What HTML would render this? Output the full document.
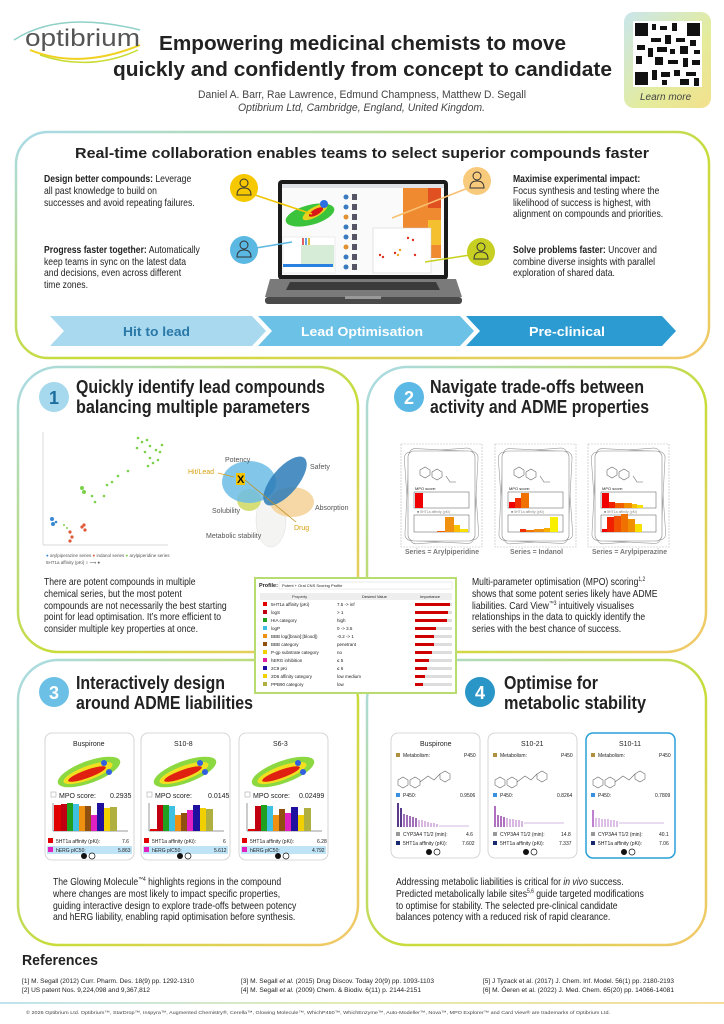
<!DOCTYPE html>
<html><head><meta charset="utf-8"><style>
html,body{margin:0;padding:0;background:#fff}
svg{display:block}
text{font-family:"Liberation Sans",sans-serif;fill:#222}
.b{font-weight:bold}
.p{font-size:10.5px;fill:#333}
.s{font-size:6px;fill:#333}
</style></head><body>
<svg width="724" height="1024" viewBox="0 0 724 1024" xmlns="http://www.w3.org/2000/svg">
<defs>
<linearGradient id="pg" x1="0" y1="0" x2="1" y2="1">
<stop offset="0" stop-color="#a9dbea"/><stop offset="0.55" stop-color="#c8dc3a"/><stop offset="1" stop-color="#f3c86c"/></linearGradient>
<linearGradient id="qr" x1="0" y1="0" x2="1" y2="1">
<stop offset="0" stop-color="#c9e6ec"/><stop offset="0.6" stop-color="#e4ec9c"/><stop offset="1" stop-color="#f2e08c"/></linearGradient>
<linearGradient id="fl" x1="0" y1="0" x2="1" y2="0">
<stop offset="0" stop-color="#bfe3ef"/><stop offset="0.5" stop-color="#e3ecb0"/><stop offset="1" stop-color="#f5dc9c"/></linearGradient>
<radialGradient id="glow" cx="0.5" cy="0.5" r="0.5"><stop offset="0" stop-color="#d81010"/><stop offset="0.45" stop-color="#e83010"/><stop offset="0.7" stop-color="#f0e020"/><stop offset="1" stop-color="#40c040"/></radialGradient>
</defs>

<!-- Logo -->
<path d="M14 40 Q60 10 140 30" stroke="#8fd0c8" stroke-width="1.5" fill="none"/>
<path d="M30 50 Q80 70 140 45" stroke="#f0d020" stroke-width="2" fill="none"/>
<path d="M40 55 Q90 72 138 50" stroke="#c8dc30" stroke-width="1.5" fill="none"/>
<text x="25" y="46" style="font-size:24px;fill:#555" textLength="115" lengthAdjust="spacingAndGlyphs">optibrium</text>

<!-- Title -->
<text class="b" x="159" y="50" style="font-size:20px;fill:#222" textLength="407" lengthAdjust="spacingAndGlyphs">Empowering medicinal chemists to move</text>
<text class="b" x="113" y="76" style="font-size:20px;fill:#222" textLength="499" lengthAdjust="spacingAndGlyphs">quickly and confidently from concept to candidate</text>
<text x="198" y="98" style="font-size:11px;fill:#444" textLength="328" lengthAdjust="spacingAndGlyphs">Daniel A. Barr, Rae Lawrence, Edmund Champness, Matthew D. Segall</text>
<text x="238" y="111" style="font-size:11px;fill:#444;font-style:italic" textLength="247" lengthAdjust="spacingAndGlyphs">Optibrium Ltd, Cambridge, England, United Kingdom.</text>

<!-- QR -->
<rect x="624" y="12" width="87" height="96" rx="10" fill="url(#qr)"/>
<rect x="633" y="21" width="69" height="66" fill="#fff"/>
<g fill="#111">
<rect x="635" y="23" width="13" height="13"/><rect x="687" y="23" width="13" height="13"/><rect x="635" y="72" width="13" height="13"/>
<rect x="652" y="24" width="4" height="6"/><rect x="660" y="26" width="7" height="4"/><rect x="672" y="23" width="5" height="8"/><rect x="651" y="38" width="10" height="4"/><rect x="665" y="35" width="6" height="9"/><rect x="676" y="38" width="9" height="4"/><rect x="690" y="40" width="6" height="6"/><rect x="637" y="45" width="8" height="5"/><rect x="648" y="48" width="5" height="9"/><rect x="657" y="47" width="10" height="5"/><rect x="670" y="49" width="5" height="5"/><rect x="680" y="46" width="8" height="8"/><rect x="694" y="50" width="6" height="4"/><rect x="636" y="56" width="6" height="8"/><rect x="655" y="57" width="8" height="8"/><rect x="668" y="60" width="10" height="4"/><rect x="683" y="58" width="5" height="9"/><rect x="692" y="60" width="8" height="5"/><rect x="652" y="70" width="5" height="10"/><rect x="661" y="72" width="9" height="5"/><rect x="674" y="70" width="6" height="6"/><rect x="686" y="72" width="10" height="4"/><rect x="662" y="80" width="5" height="5"/><rect x="680" y="79" width="9" height="6"/><rect x="694" y="78" width="5" height="8"/>
</g>
<text x="640" y="100" style="font-size:10px;fill:#444;font-style:italic">Learn more</text>

<!-- Top panel -->
<rect x="16" y="132" width="693" height="226" rx="32" fill="#fff" stroke="url(#pg)" stroke-width="2.5"/>
<text class="b" x="75" y="158" style="font-size:15px;fill:#222" textLength="574" lengthAdjust="spacingAndGlyphs">Real-time collaboration enables teams to select superior compounds faster</text>

<g class="p">
<text transform="translate(44,182) scale(.82 1)"><tspan class="b">Design better compounds:</tspan> Leverage</text>
<text transform="translate(44,194) scale(.82 1)">all past knowledge to build on</text>
<text transform="translate(44,206) scale(.82 1)">successes and avoid repeating failures.</text>
<text transform="translate(44,253) scale(.82 1)"><tspan class="b">Progress faster together:</tspan> Automatically</text>
<text transform="translate(44,265) scale(.82 1)">keep teams in sync on the latest data</text>
<text transform="translate(44,276) scale(.82 1)">and decisions, even across different</text>
<text transform="translate(44,288) scale(.82 1)">time zones.</text>
<text transform="translate(513,182) scale(.82 1)" class="b">Maximise experimental impact:</text>
<text transform="translate(513,194) scale(.82 1)">Focus synthesis and testing where the</text>
<text transform="translate(513,206) scale(.82 1)">likelihood of success is highest, with</text>
<text transform="translate(513,217) scale(.82 1)">alignment on compounds and priorities.</text>
<text transform="translate(513,253) scale(.82 1)"><tspan class="b">Solve problems faster:</tspan> Uncover and</text>
<text transform="translate(513,265) scale(.82 1)">combine diverse insights with parallel</text>
<text transform="translate(513,276) scale(.82 1)">exploration of shared data.</text>
</g>

<!-- Laptop -->
<rect x="278" y="180" width="170" height="100" rx="4" fill="#1b1b1b"/>
<rect x="282" y="184" width="162" height="91" fill="#fafafa"/>
<rect x="282" y="184" width="162" height="4" fill="#dfe3e8"/>
<ellipse cx="310" cy="215" rx="25" ry="10" fill="#3bc43b" transform="rotate(-15 310 215)"/>
<ellipse cx="315" cy="212" rx="14" ry="5" fill="#e8d020" transform="rotate(-30 315 212)"/>
<ellipse cx="316" cy="212" rx="8" ry="3" fill="#d81818" transform="rotate(-30 316 212)"/>
<circle cx="324" cy="204" r="4" fill="#2a70e0"/>
<rect x="283" y="237" width="52" height="36" fill="#fff" stroke="#ddd" stroke-width=".5"/>
<rect x="301" y="245" width="33" height="22" fill="#d6ecd6"/>
<rect x="283" y="264" width="50" height="3" fill="#2a80e0"/>
<g fill="#e06060"><rect x="302" y="238" width="2" height="7"/><rect x="305" y="238" width="2" height="7" fill="#60a0e0"/><rect x="308" y="238" width="2" height="7" fill="#e0c040"/></g>
<g>
<circle cx="346" cy="197" r="2.5" fill="#3a7ac0"/><circle cx="346" cy="207" r="2.5" fill="#3a7ac0"/><circle cx="346" cy="217" r="2.5" fill="#e09030"/><circle cx="346" cy="227" r="2.5" fill="#3a7ac0"/><circle cx="346" cy="237" r="2.5" fill="#3a7ac0"/><circle cx="346" cy="247" r="2.5" fill="#e09030"/><circle cx="346" cy="257" r="2.5" fill="#3a7ac0"/><circle cx="346" cy="267" r="2.5" fill="#3a7ac0"/>
<g fill="#556"><rect x="352" y="194" width="5" height="6"/><rect x="352" y="204" width="5" height="6"/><rect x="352" y="214" width="5" height="6"/><rect x="352" y="224" width="5" height="6"/><rect x="352" y="234" width="5" height="6"/><rect x="352" y="244" width="5" height="6"/><rect x="352" y="254" width="5" height="6"/><rect x="352" y="264" width="5" height="6"/></g>
</g>
<rect x="403" y="188" width="38" height="70" fill="#f08a30"/>
<rect x="428" y="188" width="13" height="20" fill="#e05020"/><rect x="428" y="220" width="13" height="25" fill="#f5c030"/><rect x="415" y="245" width="13" height="13" fill="#f5b030"/>
<rect x="373" y="228" width="58" height="45" fill="#fff" stroke="#ccc" stroke-width=".5"/>
<g fill="#e03020"><circle cx="380" cy="255" r="1.2"/><circle cx="383" cy="257" r="1.2"/><circle cx="395" cy="253" r="1.2"/><circle cx="408" cy="238" r="1.2"/><circle cx="413" cy="240" r="1.2"/><circle cx="415" cy="255" r="1.2"/><circle cx="398" cy="255" r="1.2" fill="#f0a020"/><circle cx="400" cy="250" r="1.2" fill="#f0a020"/></g>
<polygon points="270,279 456,279 462,297 265,297" fill="#7a7a7a"/>
<polygon points="290,282 436,282 440,290 286,290" fill="#3a3a3a"/>
<rect x="265" y="297" width="197" height="7" rx="3" fill="#4a4a4a"/>
<rect x="345" y="296" width="36" height="3" fill="#999"/>

<!-- connectors + persons -->
<line x1="255" y1="195" x2="312" y2="214" stroke="#f0c400" stroke-width="1.5"/>
<line x1="256" y1="248" x2="292" y2="242" stroke="#5bb8e0" stroke-width="1.5"/>
<line x1="468" y1="188" x2="392" y2="218" stroke="#f8c070" stroke-width="1.5"/>
<line x1="470" y1="255" x2="425" y2="262" stroke="#c8d020" stroke-width="1.5"/>
<g stroke="#333" stroke-width="1" fill="none">
<circle cx="244" cy="188" r="14" fill="#f6c800" stroke="none"/><circle cx="244" cy="183" r="4"/><path d="M237 195 q0-7 7-7 q7 0 7 7 z"/>
<circle cx="244" cy="250" r="14" fill="#5bb8e2" stroke="none"/><circle cx="244" cy="245" r="4"/><path d="M237 257 q0-7 7-7 q7 0 7 7 z"/>
<circle cx="477" cy="181" r="14" fill="#f8cb7c" stroke="none"/><circle cx="477" cy="176" r="4"/><path d="M470 188 q0-7 7-7 q7 0 7 7 z"/>
<circle cx="481" cy="252" r="14" fill="#c6cf22" stroke="none"/><circle cx="481" cy="247" r="4"/><path d="M474 259 q0-7 7-7 q7 0 7 7 z"/>
</g>

<!-- chevrons -->
<polygon points="50,316 252,316 266,331 252,346 50,346 64,331" fill="#a8d9ef"/>
<polygon points="258,316 460,316 474,331 460,346 258,346 272,331" fill="#6cc1e6"/>
<polygon points="466,316 662,316 676,331 662,346 466,346 480,331" fill="#2b9bd1"/>
<text class="b" x="123" y="336" style="font-size:13px;fill:#2a78a8" textLength="67" lengthAdjust="spacingAndGlyphs">Hit to lead</text>
<text class="b" x="301" y="336" style="font-size:13px;fill:#fff" textLength="122" lengthAdjust="spacingAndGlyphs">Lead Optimisation</text>
<text class="b" x="529" y="336" style="font-size:13px;fill:#fff" textLength="76" lengthAdjust="spacingAndGlyphs">Pre-clinical</text>

<!-- Panels 1-4 -->
<rect x="18" y="367" width="340" height="285" rx="40" fill="#fff" stroke="url(#pg)" stroke-width="2.5"/>
<rect x="367" y="367" width="339" height="285" rx="40" fill="#fff" stroke="url(#pg)" stroke-width="2.5"/>
<rect x="18" y="660" width="340" height="285" rx="40" fill="#fff" stroke="url(#pg)" stroke-width="2.5"/>
<rect x="367" y="660" width="339" height="285" rx="40" fill="#fff" stroke="url(#pg)" stroke-width="2.5"/>

<!-- Panel 1 -->
<circle cx="54" cy="397" r="15" fill="#a6d8ee"/>
<text class="b" x="49" y="404" style="font-size:18px;fill:#1c6e9c">1</text>
<text class="b" x="76" y="393" style="font-size:18px" textLength="249" lengthAdjust="spacingAndGlyphs">Quickly identify lead compounds</text>
<text class="b" x="76" y="413" style="font-size:18px" textLength="234" lengthAdjust="spacingAndGlyphs">balancing multiple parameters</text>
<line x1="43" y1="432" x2="43" y2="545" stroke="#ccc" stroke-width=".7"/>
<line x1="43" y1="545" x2="168" y2="545" stroke="#ccc" stroke-width=".7"/>
<g fill="#7cd04a">
<circle cx="138" cy="438" r="1.3"/><circle cx="142" cy="442" r="1.3"/><circle cx="147" cy="440" r="1.3"/><circle cx="150" cy="446" r="1.3"/><circle cx="156" cy="450" r="1.3"/><circle cx="160" cy="452" r="1.3"/><circle cx="145" cy="452" r="1.3"/><circle cx="150" cy="458" r="1.3"/><circle cx="158" cy="460" r="1.3"/><circle cx="153" cy="463" r="1.3"/><circle cx="137" cy="448" r="1.3"/><circle cx="162" cy="445" r="1.3"/><circle cx="148" cy="466" r="1.3"/><circle cx="128" cy="471" r="1.3"/><circle cx="118" cy="476" r="1.3"/><circle cx="112" cy="482" r="1.3"/><circle cx="107" cy="485" r="1.3"/><circle cx="82" cy="488" r="2"/><circle cx="84" cy="492" r="2"/><circle cx="92" cy="496" r="1.3"/><circle cx="95" cy="502" r="1.3"/><circle cx="104" cy="496" r="1.3"/>
</g>
<g fill="#3a88d0"><circle cx="52" cy="519" r="2"/><circle cx="53" cy="524" r="2"/><circle cx="56" cy="522" r="1.3"/></g>
<g fill="#e05a3a"><circle cx="82" cy="527" r="1.6"/><circle cx="85" cy="530" r="1.6"/><circle cx="70" cy="532" r="1.6"/><circle cx="72" cy="537" r="1.6"/><circle cx="70" cy="541" r="1.6"/><circle cx="84" cy="525" r="1.6"/></g>
<g fill="#7cd04a"><circle cx="64" cy="525" r="1"/><circle cx="67" cy="528" r="1"/></g>
<text x="46" y="557" style="font-size:4.5px;fill:#555"><tspan fill="#3a88d0">●</tspan> arylpiperazine series <tspan fill="#e05a3a">●</tspan> indanol series <tspan fill="#7cd04a">●</tspan> arylpiperidine series</text>
<text x="46" y="564" style="font-size:4.5px;fill:#555">5HT1a affinity (pKi) ○ ⟶ ●</text>

<!-- Venn -->
<ellipse cx="271" cy="520" rx="15" ry="27" fill="#f4f4f2" stroke="#ddd" stroke-width=".5"/>
<ellipse cx="249" cy="500" rx="12" ry="11" fill="#cfd860" opacity=".85"/>
<ellipse cx="292" cy="502" rx="22" ry="15" fill="#f5d49c" opacity=".9"/>
<ellipse cx="249" cy="482" rx="27" ry="21" fill="#6cbde6" opacity=".85"/>
<ellipse cx="285" cy="481" rx="30" ry="13" fill="#2d7db8" opacity=".85" transform="rotate(-50 285 481)"/>
<text x="225" y="462" style="font-size:7px;fill:#555">Potency</text>
<text x="310" y="469" style="font-size:7px;fill:#555">Safety</text>
<text x="315" y="510" style="font-size:7px;fill:#555">Absorption</text>
<text x="212" y="513" style="font-size:7px;fill:#555">Solubility</text>
<text x="206" y="538" style="font-size:7px;fill:#555">Metabolic stability</text>
<text x="188" y="474" style="font-size:7px;fill:#d8a010">Hit/Lead</text>
<text x="294" y="530" style="font-size:7px;fill:#d8a010">Drug</text>
<line x1="218" y1="473" x2="234" y2="477" stroke="#d8a010" stroke-width=".8"/>
<line x1="245" y1="480" x2="296" y2="522" stroke="#c09020" stroke-width=".8"/>
<rect x="236" y="473" width="9" height="12" fill="#f4c400"/>
<text class="b" x="237" y="483" style="font-size:11px;fill:#111">X</text>

<g class="p">
<text transform="translate(44,585) scale(.82 1)">There are potent compounds in multiple</text>
<text transform="translate(44,597) scale(.82 1)">chemical series, but the most potent</text>
<text transform="translate(44,609) scale(.82 1)">compounds are not necessarily the best starting</text>
<text transform="translate(44,620) scale(.82 1)">point for lead optimisation. It’s more efficient to</text>
<text transform="translate(44,632) scale(.82 1)">consider multiple key properties at once.</text>
</g>

<!-- Panel 2 -->
<circle cx="409" cy="397" r="15" fill="#5cb8e4"/>
<text class="b" x="404" y="404" style="font-size:18px;fill:#fff">2</text>
<text class="b" x="430" y="393" style="font-size:18px" textLength="214" lengthAdjust="spacingAndGlyphs">Navigate trade-offs between</text>
<text class="b" x="430" y="413" style="font-size:18px" textLength="219" lengthAdjust="spacingAndGlyphs">activity and ADME properties</text>

<g id="c2">
<rect x="401" y="444" width="81" height="103" fill="none" stroke="#bbb" stroke-width=".6" stroke-dasharray="2 1"/>
<rect x="407" y="450" width="69" height="92" rx="6" fill="#fff" stroke="#999" stroke-width=".6" transform="rotate(-4 441 496)"/>
<rect x="407" y="450" width="69" height="92" rx="6" fill="#fff" stroke="#999" stroke-width=".6" transform="rotate(3 441 496)"/>
<rect x="408" y="451" width="67" height="90" rx="6" fill="#fff" stroke="#888" stroke-width=".6"/>
<path d="M420 470 l5 -3 5 3 0 5 -5 3 -5 -3z M432 472 l5 -3 5 3 0 5 -5 3 -5-3z M446 476 l4 6 6 0" stroke="#666" stroke-width=".6" fill="none"/>
<text x="415" y="490" style="font-size:4px">MPO score:</text>
<rect x="414" y="492" width="55" height="16" fill="#fff" stroke="#555" stroke-width=".5"/>
<text x="417" y="513" style="font-size:3.5px;fill:#888">■ 5HT1a affinity (pKi)</text>
<rect x="414" y="515" width="55" height="17" fill="#fff" stroke="#555" stroke-width=".5"/>
</g>
<g fill="#f00000"><rect x="415" y="493" width="8" height="15"/></g>
<g><rect x="445" y="517" width="9" height="15" fill="#f09010"/><rect x="454" y="525" width="6" height="7" fill="#f8c000"/><rect x="460" y="529" width="8" height="3" fill="#f8e000"/><rect x="437" y="531" width="8" height="1" fill="#f06000"/></g>
<use href="#c2" x="94"/>
<g><rect x="509" y="502" width="6" height="6" fill="#f00000"/><rect x="515" y="498" width="6" height="10" fill="#f03000"/><rect x="521" y="493" width="8" height="15" fill="#f07000"/></g>
<g><rect x="520" y="529" width="6" height="3" fill="#f03000"/><rect x="526" y="530" width="8" height="2" fill="#f07000"/><rect x="534" y="529" width="10" height="3" fill="#f09010"/><rect x="544" y="528" width="6" height="4" fill="#f8b000"/><rect x="550" y="517" width="8" height="15" fill="#f8f000"/></g>
<use href="#c2" x="187"/>
<g><rect x="602" y="493" width="7" height="15" fill="#f00000"/><rect x="609" y="502" width="6" height="6" fill="#f02000"/><rect x="615" y="503" width="9" height="5" fill="#f06000"/><rect x="624" y="503" width="8" height="5" fill="#f09000"/><rect x="632" y="504" width="5" height="4" fill="#f8c000"/><rect x="637" y="505" width="6" height="3" fill="#f8e000"/></g>
<g><rect x="602" y="529" width="5" height="3" fill="#f00000"/><rect x="607" y="517" width="7" height="15" fill="#f02000"/><rect x="614" y="516" width="7" height="16" fill="#f05000"/><rect x="621" y="514" width="7" height="18" fill="#f07000"/><rect x="628" y="519" width="7" height="13" fill="#f09000"/><rect x="635" y="524" width="7" height="8" fill="#f8e000"/></g>
<text class="b" x="405" y="554" style="font-size:7px;fill:#777" textLength="74" lengthAdjust="spacingAndGlyphs">Series = Arylpiperidine</text>
<text class="b" x="510" y="554" style="font-size:7px;fill:#777" textLength="53" lengthAdjust="spacingAndGlyphs">Series = Indanol</text>
<text class="b" x="592" y="554" style="font-size:7px;fill:#777" textLength="75" lengthAdjust="spacingAndGlyphs">Series = Arylpiperazine</text>

<g class="p">
<text transform="translate(472,585) scale(.82 1)">Multi-parameter optimisation (MPO) scoring<tspan dy="-4" style="font-size:6px">1,2</tspan></text>
<text transform="translate(472,597) scale(.82 1)">shows that some potent series likely have ADME</text>
<text transform="translate(472,609) scale(.82 1)">liabilities. Card View<tspan dy="-4" style="font-size:6px">™3</tspan><tspan dy="4"> intuitively visualises</tspan></text>
<text transform="translate(472,620) scale(.82 1)">relationships in the data to quickly identify the</text>
<text transform="translate(472,632) scale(.82 1)">series with the best chance of success.</text>
</g>

<!-- Profile table -->
<rect x="255" y="578" width="201" height="115" fill="#fff" stroke="#b8dc70" stroke-width="2"/>
<text class="b" x="259" y="587" style="font-size:5.5px">Profile:</text>
<rect x="279" y="582" width="173" height="7" fill="#fff" stroke="#ccc" stroke-width=".4"/>
<text x="282" y="587" style="font-size:4px">Potent + Oral CNS Scoring Profile</text>
<rect x="260" y="593" width="192" height="7" fill="#eee"/>
<text x="292" y="598" class="s" style="font-size:4px">Property</text><text x="362" y="598" style="font-size:4px">Desired Value</text><text x="420" y="598" style="font-size:4px">Importance</text>
<g style="font-size:4.5px">
<rect x="263" y="602" width="4" height="4" fill="#e00000"/><text x="271" y="606">5HT1a affinity (pKi)</text><text x="337" y="606">7.5 -&gt; inf</text>
<rect x="263" y="610" width="4" height="4" fill="#c00010"/><text x="271" y="614">logS</text><text x="337" y="614">&gt;  1</text>
<rect x="263" y="618" width="4" height="4" fill="#20a020"/><text x="271" y="622">HIA category</text><text x="337" y="622">high</text>
<rect x="263" y="626" width="4" height="4" fill="#40c0e0"/><text x="271" y="630">logP</text><text x="337" y="630">0 -&gt; 3.5</text>
<rect x="263" y="634" width="4" height="4" fill="#f09010"/><text x="271" y="638">BBB log([brain]:[blood])</text><text x="337" y="638">-0.2 -&gt; 1</text>
<rect x="263" y="642" width="4" height="4" fill="#905010"/><text x="271" y="646">BBB category</text><text x="337" y="646">penetrant</text>
<rect x="263" y="650" width="4" height="4" fill="#f0d000"/><text x="271" y="654">P-gp substrate category</text><text x="337" y="654">no</text>
<rect x="263" y="658" width="4" height="4" fill="#e020a0"/><text x="271" y="662">hERG inhibition</text><text x="337" y="662">≤  5</text>
<rect x="263" y="666" width="4" height="4" fill="#2010a0"/><text x="271" y="670">2C9 pKi</text><text x="337" y="670">≤  6</text>
<rect x="263" y="674" width="4" height="4" fill="#f0d000"/><text x="271" y="678">2D6 affinity category</text><text x="337" y="678">low medium</text>
<rect x="263" y="682" width="4" height="4" fill="#b0b040"/><text x="271" y="686">PPB90 category</text><text x="337" y="686">low</text>
</g>
<g fill="#ddd">
<rect x="415" y="603" width="37" height="3"/><rect x="415" y="611" width="37" height="3"/><rect x="415" y="619" width="37" height="3"/><rect x="415" y="627" width="37" height="3"/><rect x="415" y="635" width="37" height="3"/><rect x="415" y="643" width="37" height="3"/><rect x="415" y="651" width="37" height="3"/><rect x="415" y="659" width="37" height="3"/><rect x="415" y="667" width="37" height="3"/><rect x="415" y="675" width="37" height="3"/><rect x="415" y="683" width="37" height="3"/>
</g>
<g fill="#d00000">
<rect x="415" y="603" width="35" height="3"/><rect x="415" y="611" width="33" height="3"/><rect x="415" y="619" width="32" height="3"/><rect x="415" y="627" width="21" height="3"/><rect x="415" y="635" width="19" height="3"/><rect x="415" y="643" width="19" height="3"/><rect x="415" y="651" width="17" height="3"/><rect x="415" y="659" width="14" height="3"/><rect x="415" y="667" width="12" height="3"/><rect x="415" y="675" width="10" height="3"/><rect x="415" y="683" width="8" height="3"/>
</g>

<!-- Panel 3 -->
<circle cx="54" cy="692" r="15" fill="#6cc0e6"/>
<text class="b" x="49" y="699" style="font-size:18px;fill:#fff">3</text>
<text class="b" x="76" y="689" style="font-size:18px" textLength="149" lengthAdjust="spacingAndGlyphs">Interactively design</text>
<text class="b" x="76" y="709" style="font-size:18px" textLength="177" lengthAdjust="spacingAndGlyphs">around ADME liabilities</text>

<g id="c3">
<rect x="45" y="733" width="89" height="127" rx="7" fill="#fff" stroke="#ccc" stroke-width=".8"/>
<ellipse cx="89" cy="772" rx="33" ry="11" fill="#8cd840" transform="rotate(-20 89 772)"/>
<ellipse cx="88" cy="773" rx="26" ry="7" fill="#f0e020" transform="rotate(-20 88 773)"/>
<ellipse cx="87" cy="774" rx="20" ry="4" fill="#e02010" transform="rotate(-20 87 774)"/>
<circle cx="104" cy="763" r="3" fill="#3060e0"/><circle cx="109" cy="772" r="3" fill="#3060e0"/>
<rect x="51" y="792" width="5" height="5" fill="#fff" stroke="#999" stroke-width=".5"/>
<line x1="53" y1="803" x2="53" y2="831" stroke="#333" stroke-width=".5"/>
<line x1="53" y1="831" x2="128" y2="831" stroke="#333" stroke-width=".5"/>
<rect x="48" y="838" width="5" height="5" fill="#e00000"/>
<rect x="47" y="846" width="85" height="8" fill="#bfe4f8"/>
<rect x="48" y="847" width="5" height="5" fill="#e020c0"/>
<circle cx="84" cy="856" r="3" fill="#111"/><circle cx="92" cy="856" r="3" fill="#fff" stroke="#111" stroke-width=".7"/>
</g>
<use href="#c3" x="96"/>
<use href="#c3" x="194"/>
<g style="font-size:7px">
<text x="73" y="746">Buspirone</text><text x="174" y="746">S10-8</text><text x="273" y="746">S6-3</text>
<text x="59" y="798">MPO score:</text><text x="110" y="798">0.2935</text>
<text x="155" y="798">MPO score:</text><text x="208" y="798">0.0145</text>
<text x="253" y="798">MPO score:</text><text x="299" y="798">0.02499</text>
</g>
<g style="font-size:5px">
<text x="56" y="843">5HT1a affinity (pKi):</text><text x="122" y="843">7.6</text>
<text x="56" y="852">hERG pIC50:</text><text x="118" y="852">5.863</text>
<text x="152" y="843">5HT1a affinity (pKi):</text><text x="223" y="843">6</text>
<text x="152" y="852">hERG pIC50:</text><text x="214" y="852">5.612</text>
<text x="250" y="843">5HT1a affinity (pKi):</text><text x="317" y="843">6.28</text>
<text x="250" y="852">hERG pIC50:</text><text x="312" y="852">4.792</text>
</g>
<!-- bars card 3a -->
<g>
<rect x="54" y="805" width="7" height="26" fill="#e00000"/><rect x="61" y="804" width="6" height="27" fill="#c00010"/><rect x="67" y="803" width="6" height="28" fill="#20a020"/><rect x="73" y="804" width="6" height="27" fill="#40c0e0"/><rect x="79" y="806" width="6" height="25" fill="#f09010"/><rect x="85" y="806" width="6" height="25" fill="#905010"/><rect x="91" y="815" width="6" height="16" fill="#e020c0"/><rect x="97" y="803" width="7" height="28" fill="#2010a0"/><rect x="104" y="808" width="6" height="23" fill="#f0d000"/><rect x="110" y="807" width="7" height="24" fill="#b0b040"/>
</g>
<g>
<rect x="150" y="829" width="7" height="2" fill="#e00000"/><rect x="157" y="805" width="6" height="26" fill="#c00010"/><rect x="163" y="805" width="6" height="26" fill="#20a020"/><rect x="169" y="806" width="6" height="25" fill="#40c0e0"/><rect x="175" y="815" width="6" height="16" fill="#f09010"/><rect x="181" y="813" width="6" height="18" fill="#905010"/><rect x="187" y="810" width="6" height="21" fill="#e020c0"/><rect x="193" y="805" width="7" height="26" fill="#2010a0"/><rect x="200" y="808" width="6" height="23" fill="#f0d000"/><rect x="206" y="809" width="7" height="22" fill="#b0b040"/>
</g>
<g>
<rect x="248" y="829" width="7" height="2" fill="#e00000"/><rect x="255" y="806" width="6" height="25" fill="#c00010"/><rect x="261" y="805" width="6" height="26" fill="#20a020"/><rect x="267" y="806" width="6" height="25" fill="#40c0e0"/><rect x="273" y="815" width="6" height="16" fill="#f09010"/><rect x="279" y="809" width="6" height="22" fill="#905010"/><rect x="285" y="813" width="6" height="18" fill="#e020c0"/><rect x="291" y="807" width="7" height="24" fill="#2010a0"/><rect x="298" y="815" width="6" height="16" fill="#f0d000"/><rect x="304" y="808" width="7" height="23" fill="#b0b040"/>
</g>

<g class="p">
<text transform="translate(53,885) scale(.82 1)">The Glowing Molecule<tspan dy="-4" style="font-size:6px">™4</tspan><tspan dy="4"> highlights regions in the compound</tspan></text>
<text transform="translate(53,897) scale(.82 1)">where changes are most likely to impact specific properties,</text>
<text transform="translate(53,909) scale(.82 1)">guiding interactive design to explore trade-offs between potency</text>
<text transform="translate(53,920) scale(.82 1)">and hERG liability, enabling rapid optimisation before synthesis.</text>
</g>

<!-- Panel 4 -->
<circle cx="480" cy="692" r="15" fill="#2a96c8"/>
<text class="b" x="475" y="699" style="font-size:18px;fill:#fff">4</text>
<text class="b" x="504" y="689" style="font-size:18px" textLength="94" lengthAdjust="spacingAndGlyphs">Optimise for</text>
<text class="b" x="504" y="709" style="font-size:18px" textLength="142" lengthAdjust="spacingAndGlyphs">metabolic stability</text>

<g id="c4">
<rect x="391" y="733" width="89" height="125" rx="7" fill="#fff" stroke="#ccc" stroke-width=".8"/>
<rect x="396" y="753" width="4" height="4" fill="#b09040"/>
<path d="M398 780 l5 -3 5 3 0 5 -5 3 -5 -3z M410 780 l5 -3 5 3 0 5 -5 3 -5 -3z M420 782 l8 -6 6 4 6 -6 M440 774 l5 -3 5 3 0 5 -5 3 -5-3z" stroke="#666" stroke-width=".6" fill="none"/>
<rect x="396" y="793" width="4" height="4" fill="#3a90e0"/>
<rect x="396" y="832" width="4" height="4" fill="#999"/>
<rect x="396" y="841" width="4" height="4" fill="#1a2a70"/>
<circle cx="429" cy="852" r="3" fill="#111"/><circle cx="437" cy="852" r="3" fill="#fff" stroke="#111" stroke-width=".7"/>
</g>
<use href="#c4" x="97"/>
<use href="#c4" x="195"/>
<rect x="586" y="733" width="89" height="125" rx="7" fill="none" stroke="#2aa0d8" stroke-width="1.5"/>
<g style="font-size:7px">
<text x="420" y="746">Buspirone</text><text x="521" y="746">S10-21</text><text x="619" y="746">S10-11</text>
</g>
<g style="font-size:5px">
<text x="403" y="757">Metabolism:</text><text x="464" y="757">P450</text>
<text x="500" y="757">Metabolism:</text><text x="561" y="757">P450</text>
<text x="598" y="757">Metabolism:</text><text x="659" y="757">P450</text>
<text x="403" y="797">P450:</text><text x="460" y="797">0.9506</text>
<text x="500" y="797">P450:</text><text x="557" y="797">0.8264</text>
<text x="598" y="797">P450:</text><text x="655" y="797">0.7809</text>
<text x="403" y="836">CYP3A4 T1/2 (min):</text><text x="466" y="836">4.6</text>
<text x="403" y="845">5HT1a affinity (pKi):</text><text x="462" y="845">7.602</text>
<text x="500" y="836">CYP3A4 T1/2 (min):</text><text x="561" y="836">14.8</text>
<text x="500" y="845">5HT1a affinity (pKi):</text><text x="559" y="845">7.337</text>
<text x="598" y="836">CYP3A4 T1/2 (min):</text><text x="659" y="836">40.1</text>
<text x="598" y="845">5HT1a affinity (pKi):</text><text x="659" y="845">7.06</text>
</g>
<g fill="#5a3a8a"><rect x="397" y="803" width="2" height="24"/><rect x="400" y="808" width="2" height="19"/></g>
<g fill="#a070b8"><rect x="403" y="814" width="2" height="13"/><rect x="406" y="815" width="2" height="12"/><rect x="409" y="816" width="2" height="11"/><rect x="412" y="817" width="2" height="10"/><rect x="415" y="818" width="2" height="9"/></g>
<g fill="#d8b8e0"><rect x="418" y="820" width="2" height="7"/><rect x="421" y="820" width="2" height="7"/><rect x="424" y="821" width="2" height="6"/><rect x="427" y="822" width="2" height="5"/><rect x="430" y="823" width="2" height="4"/><rect x="433" y="823" width="2" height="4"/><rect x="436" y="824" width="2" height="3"/><rect x="439" y="825" width="30" height="2" fill="#eadcf0"/></g>
<g fill="#b070c0"><rect x="494" y="806" width="2" height="21"/><rect x="497" y="815" width="2" height="12"/><rect x="500" y="816" width="2" height="11"/><rect x="503" y="817" width="2" height="10"/></g>
<g fill="#d8b8e0"><rect x="506" y="818" width="2" height="9"/><rect x="509" y="819" width="2" height="8"/><rect x="512" y="819" width="2" height="8"/><rect x="515" y="820" width="2" height="7"/><rect x="518" y="820" width="2" height="7"/><rect x="521" y="821" width="2" height="6"/><rect x="524" y="822" width="40" height="2" fill="#eadcf0"/></g>
<g fill="#c080d0"><rect x="592" y="810" width="2" height="17"/></g>
<g fill="#dcc0e6"><rect x="595" y="818" width="2" height="9"/><rect x="598" y="818" width="2" height="9"/><rect x="601" y="819" width="2" height="8"/><rect x="604" y="819" width="2" height="8"/><rect x="607" y="819" width="2" height="8"/><rect x="610" y="820" width="2" height="7"/><rect x="613" y="820" width="2" height="7"/><rect x="616" y="821" width="2" height="6"/><rect x="619" y="822" width="45" height="2" fill="#eadcf0"/></g>

<g class="p">
<text transform="translate(396,885) scale(.82 1)">Addressing metabolic liabilities is critical for <tspan font-style="italic">in vivo</tspan> success.</text>
<text transform="translate(396,897) scale(.82 1)">Predicted metabolically labile sites<tspan dy="-4" style="font-size:6px">5,6</tspan><tspan dy="4"> guide targeted modifications</tspan></text>
<text transform="translate(396,909) scale(.82 1)">to optimise for stability. The selected pre-clinical candidate</text>
<text transform="translate(396,920) scale(.82 1)">balances potency with a reduced risk of rapid clearance.</text>
</g>

<!-- References -->
<text class="b" x="22" y="965" style="font-size:15px" textLength="76" lengthAdjust="spacingAndGlyphs">References</text>
<g style="font-size:6.5px;fill:#333">
<text x="22" y="983" textLength="172" lengthAdjust="spacingAndGlyphs">[1] M. Segall (2012) Curr. Pharm. Des. 18(9) pp. 1292-1310</text>
<text x="22" y="992" textLength="128" lengthAdjust="spacingAndGlyphs">[2] US patent Nos. 9,224,098 and 9,367,812</text>
<text x="241" y="983" textLength="193" lengthAdjust="spacingAndGlyphs">[3] M. Segall <tspan font-style="italic">et al.</tspan> (2015) Drug Discov. Today 20(9) pp. 1093-1103</text>
<text x="241" y="992" textLength="180" lengthAdjust="spacingAndGlyphs">[4] M. Segall <tspan font-style="italic">et al.</tspan> (2009) Chem. &amp; Biodiv. 6(11) p. 2144-2151</text>
<text x="483" y="983" textLength="191" lengthAdjust="spacingAndGlyphs">[5] J Tyzack et al. (2017) J. Chem. Inf. Model. 56(1) pp. 2180-2193</text>
<text x="483" y="992" textLength="191" lengthAdjust="spacingAndGlyphs">[6] M. Öeren et al. (2022) J. Med. Chem. 65(20) pp. 14066-14081</text>
</g>
<rect x="0" y="1002" width="724" height="2" fill="url(#fl)"/>
<text x="26" y="1014" style="font-size:4.8px;fill:#444" textLength="584" lengthAdjust="spacingAndGlyphs">© 2026 Optibrium Ltd. Optibrium™, StarDrop™, Inspyra™, Augmented Chemistry®, Cerella™, Glowing Molecule™, WhichP450™, WhichEnzyme™, Auto-Modeller™, Nova™, MPO Explorer™ and Card View® are trademarks of Optibrium Ltd.</text>
</svg>
</body></html>
